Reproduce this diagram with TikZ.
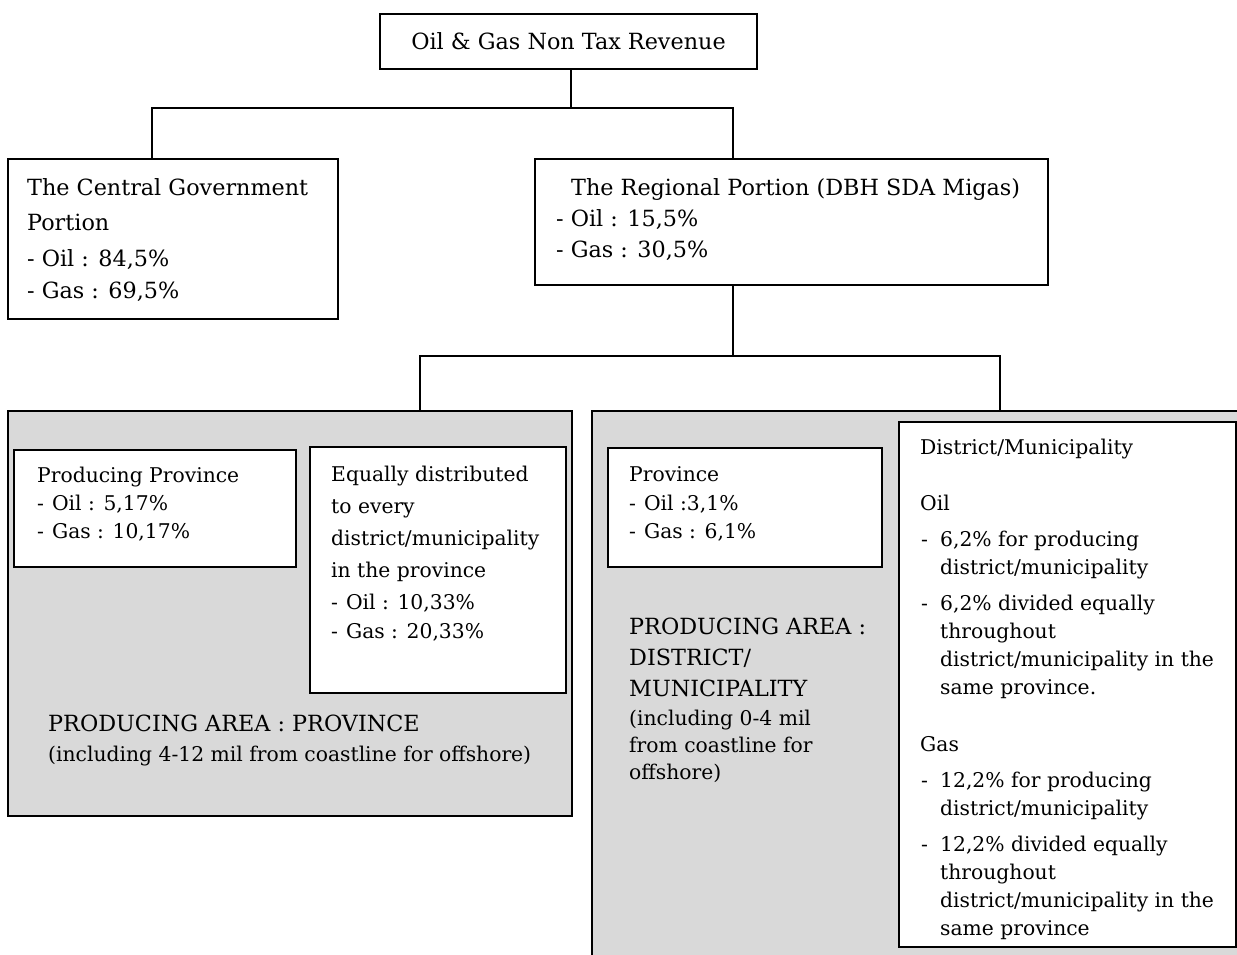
\documentclass[tikz,border=0pt]{standalone}
\usepackage{fontspec}
\setmainfont{DejaVu Serif}
\begin{document}
\begin{tikzpicture}[x=1pt,y=-1pt,
  box/.style={draw=black,line width=2.3pt,fill=white,inner sep=0pt},
  graybox/.style={draw=black,line width=2.3pt,fill=black!15,inner sep=0pt},
  con/.style={draw=black,line width=2.3pt},
  big/.style={anchor=base west,inner sep=0pt,font=\fontsize{22.3}{26}\selectfont},
  txt/.style={anchor=base west,inner sep=0pt,font=\fontsize{20.3}{24}\selectfont},
  dsh/.style={anchor=base west,inner sep=0pt,font=\fontsize{20.3}{24}\selectfont}]
\useasboundingbox (0,0) rectangle (1237,954);
\clip (0,0) rectangle (1237,954);
% boxes
\node[box,minimum width=377,minimum height=55,font=\fontsize{22.3}{26}\selectfont] (top) at (568.5,41.5) {Oil \& Gas Non Tax Revenue};
\node[box,minimum width=330,minimum height=160] (cg) at (173,239) {};
\node[box,minimum width=513,minimum height=126] (rg) at (791.5,222) {};
\node[graybox,minimum width=564,minimum height=405] (lg) at (290,613.5) {};
\node[graybox,minimum width=658,minimum height=559] (rgr) at (921,690.5) {};
\node[box,minimum width=282,minimum height=117] (pp) at (155,508.5) {};
\node[box,minimum width=256,minimum height=246] (eq) at (438,570) {};
\node[box,minimum width=274,minimum height=119] (pv) at (745,507.5) {};
\node[box,minimum width=337,minimum height=525] (dm) at (1067.5,684.5) {};
% connectors
\coordinate (j1) at (571,108);
\coordinate (cgin) at (152,159);
\coordinate (rgin) at (733,159);
\coordinate (j2) at (733,356);
\coordinate (lgin) at (420,411);
\coordinate (rgrin) at (1000,411);
\draw[con] (top.south -| j1) -- (j1) -| (cgin);
\draw[con] (j1) -| (rgin);
\draw[con] (rg.south -| j2) -- (j2) -| (lgin);
\draw[con] (j2) -| (rgrin);
% central government
\node[big] (cg1) at (27,195) {The Central Government};
\node[big] (cg2) at (27,230) {Portion};
\node[big] (cg3) at (27,266) {- Oil : 84,5\%};
\node[big] (cg4) at (27,298) {- Gas : 69,5\%};
% regional
\node[big] (rg1) at (571,195) {The Regional Portion (DBH SDA Migas)};
\node[big] (rg2) at (556,226) {- Oil : 15,5\%};
\node[big] (rg3) at (556,257) {- Gas : 30,5\%};
% producing province
\node[txt] (pp1) at (37,482) {Producing Province};
\node[txt] (pp2) at (37,510) {-\hspace{8pt}Oil : 5,17\%};
\node[txt] (pp3) at (37,538) {-\hspace{8pt}Gas : 10,17\%};
% equally distributed
\node[txt] (eq1) at (331,481) {Equally distributed};
\node[txt] (eq2) at (331,513) {to every};
\node[txt] (eq3) at (331,545) {district/municipality};
\node[txt] (eq4) at (331,577) {in the province};
\node[txt] (eq5) at (331,609) {-\hspace{8pt}Oil : 10,33\%};
\node[txt] (eq6) at (331,638) {-\hspace{8pt}Gas : 20,33\%};
% producing area province
\node[big] (pa1) at (48,731) {PRODUCING AREA : PROVINCE};
\node[txt] (pa2) at (48,761) {(including 4-12 mil from coastline for offshore)};
% province
\node[txt] (pv1) at (629,481) {Province};
\node[txt] (pv2) at (629,510) {-\hspace{8pt}Oil :3,1\%};
\node[txt] (pv3) at (629,538) {-\hspace{8pt}Gas : 6,1\%};
% producing area district
\node[big] (pd1) at (629,634) {PRODUCING AREA :};
\node[big] (pd2) at (629,665) {DISTRICT/};
\node[big] (pd3) at (629,696) {MUNICIPALITY};
\node[txt] (pd4) at (629,725) {(including 0-4 mil};
\node[txt] (pd5) at (629,752) {from coastline for};
\node[txt] (pd6) at (629,779) {offshore)};
% district / municipality
\node[txt] (dm1) at (920,454) {District/Municipality};
\node[txt] (dm2) at (920,510) {Oil};
\node[dsh] (dd1) at (921,546) {-};
\node[txt] (dm3) at (940,546) {6,2\% for producing};
\node[txt] (dm4) at (940,574) {district/municipality};
\node[dsh] (dd2) at (921,610) {-};
\node[txt] (dm5) at (940,610) {6,2\% divided equally};
\node[txt] (dm6) at (940,638) {throughout};
\node[txt] (dm7) at (940,666) {district/municipality in the};
\node[txt] (dm8) at (940,694) {same province.};
\node[txt] (dm9) at (920,751) {Gas};
\node[dsh] (dd3) at (921,787) {-};
\node[txt] (dm10) at (940,787) {12,2\% for producing};
\node[txt] (dm11) at (940,815) {district/municipality};
\node[dsh] (dd4) at (921,851) {-};
\node[txt] (dm12) at (940,851) {12,2\% divided equally};
\node[txt] (dm13) at (940,879) {throughout};
\node[txt] (dm14) at (940,907) {district/municipality in the};
\node[txt] (dm15) at (940,935) {same province};
\end{tikzpicture}
\end{document}
